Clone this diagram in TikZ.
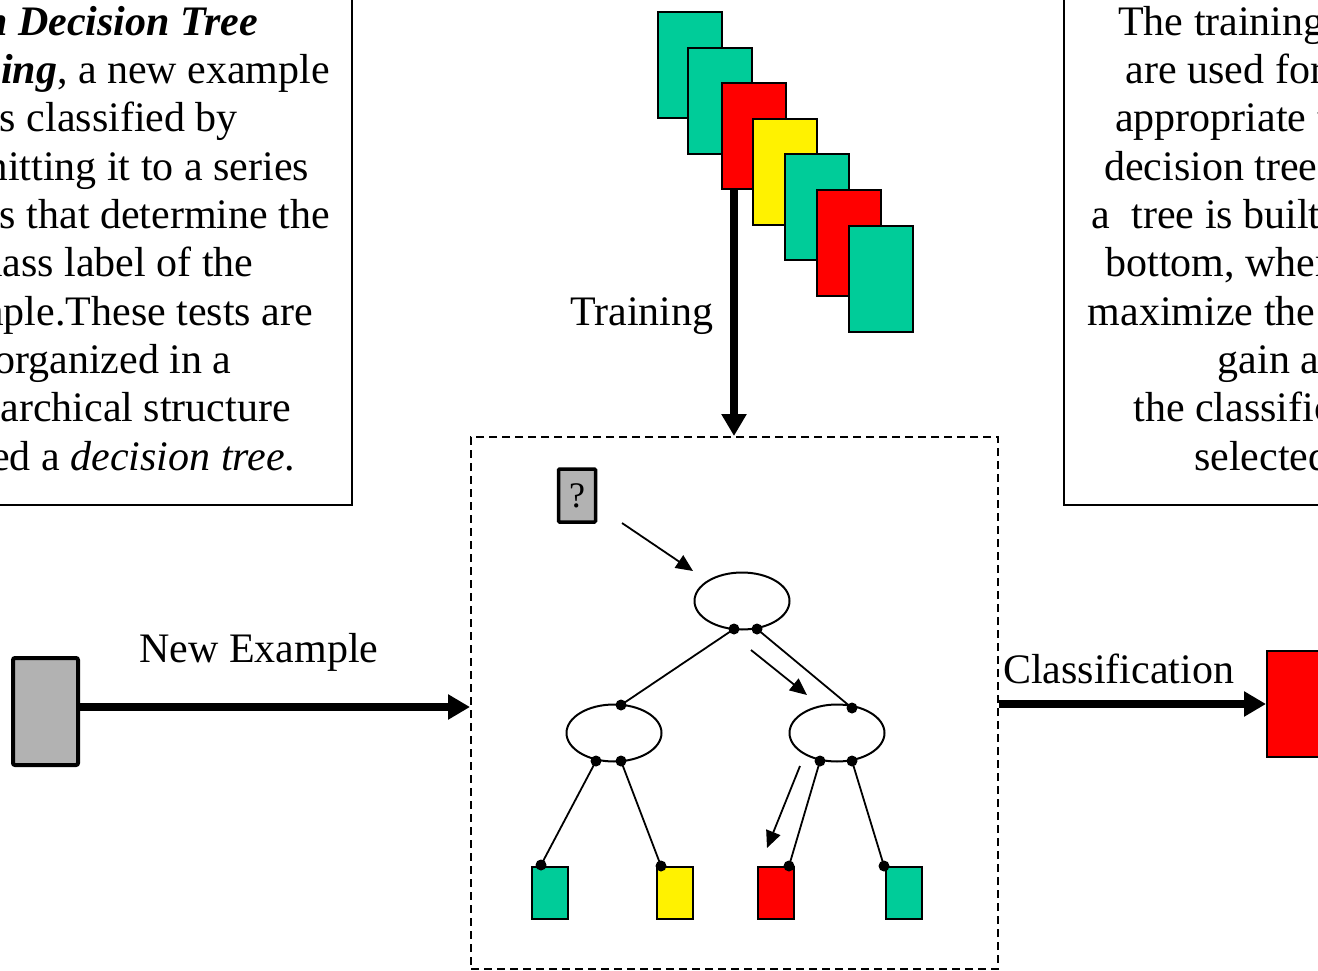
\documentclass[tikz,border=0pt]{standalone}
\usepackage{fontspec}
\setmainfont{Liberation Serif}
\usetikzlibrary{arrows.meta,shapes.geometric}
\definecolor{tgreen}{RGB}{0,204,153}
\definecolor{tgray}{RGB}{178,178,178}
\begin{document}
\begin{tikzpicture}[x=1pt,y=-1pt,
  card/.style={draw=black, line width=2pt, minimum width=64pt, minimum height=106pt, inner sep=0pt, anchor=north west},
  leaf/.style={draw=black, line width=2pt, minimum width=36pt, minimum height=52pt, inner sep=0pt, anchor=north west},
  bigarrow/.style={line width=8pt, -{Triangle[length=22pt,width=24pt]}},
  smallarrow/.style={line width=1.8pt, -{Triangle[length=17pt,width=15pt]}},
  treeedge/.style={line width=1.8pt},
  tdot/.style={circle, fill=black, inner sep=0pt, minimum size=11pt},
  testnode/.style={draw, ellipse, line width=2pt, minimum width=95pt, minimum height=57pt, inner sep=0pt},
  txt/.style={font=\fontsize{42}{48.3}\selectfont, inner sep=0pt},
  infobox/.style={draw=black, line width=1.5pt}
]
\useasboundingbox (0,0) rectangle (1318,971);
\fill[white] (0,0) rectangle (1318,971);
\clip (0,0) rectangle (1318,971);

% info boxes
\draw[infobox] (-200,-30) rectangle (352,505);
\node[txt, align=center, anchor=north] (lefttxt) at (113,6) {%
{\bfseries\itshape In Decision Tree}\\
{\bfseries\itshape Learning}, a new example\\
is classified by\\
submitting it to a series\\
of tests that determine the\\
class label of the\\
example.These tests are\\
organized in a\\
hierarchical structure\\
called a {\itshape decision tree}.};

\draw[infobox] (1064,-30) rectangle (1600,505);
\node[txt, align=center, anchor=north] (righttxt) at (1306,6) {%
The training examples\\
are used for choosing\\
appropriate tests in the\\
decision tree. Typically,\\
a\ \ tree is built from top to\\
bottom, where tests that\\
maximize the information\\
gain about\\
the classification are\\
selected first.};

% training arrow and cards
\coordinate (tstart) at (734,188);
\node[draw, dashed, dash pattern=on 8pt off 5pt, line width=2pt, minimum width=527pt, minimum height=532pt, inner sep=0pt] (frame) at (734.5,703) {};
\draw[bigarrow] (tstart) -- (tstart |- frame.north);
\node[card, fill=tgreen] (c1) at (657,11) {};
\node[card, fill=tgreen] (c2) at (687,47) {};
\node[card, fill=red] (c3) at (721,82) {};
\node[card, fill=yellow] (c4) at (752,118) {};
\node[card, fill=tgreen] (c5) at (784,153) {};
\node[card, fill=red] (c6) at (816,189) {};
\node[card, fill=tgreen] (c7) at (848,225) {};
\node[txt, anchor=base] (trainlbl) at (642,325) {Training};

% new example
\node[draw, fill=tgray, line width=4pt, rounded corners=2pt, minimum width=65pt, minimum height=107pt, inner sep=0pt] (newex) at (45.5,711.5) {};
\draw[bigarrow] (newex.east |- 0,707) -- (frame.west |- 0,707);
\node[txt, anchor=base] (newlbl) at (259,662) {New Example};

% classification
\node[draw, fill=red, line width=2pt, minimum width=80pt, minimum height=106pt, inner sep=0pt, anchor=west] (result) at (1266,704) {};
\draw[bigarrow] (result.west -| frame.east) -- (result.west);
\node[txt, anchor=base west] (classlbl) at (1003,683) {Classification};

% tree
\node[draw, fill=tgray, line width=3.5pt, rounded corners=1pt, minimum width=37pt, minimum height=53pt, inner sep=0pt, font=\fontsize{36}{40}\selectfont] (q) at (577,495.5) {?};
\node[testnode] (root) at (742,601) {};
\node[testnode] (lchild) at (614,733) {};
\node[testnode] (rchild) at (837,733) {};
\node[leaf, fill=tgreen] (l1) at (531,866) {};
\node[leaf, fill=yellow] (l2) at (656,866) {};
\node[leaf, fill=red] (l3) at (757,866) {};
\node[leaf, fill=tgreen] (l4) at (885,866) {};

\coordinate (r1) at (734,629);
\coordinate (r2) at (757,629);
\coordinate (lt) at (621,705);
\coordinate (lb1) at (596,761);
\coordinate (lb2) at (621,761);
\coordinate (rt) at (852,708);
\coordinate (rb1) at (820,761);
\coordinate (rb2) at (852,761);
\coordinate (d1) at (541,865);
\coordinate (d2) at (661,866);
\coordinate (d3) at (789,866);
\coordinate (d4) at (884,866);

\draw[treeedge] (r1) -- (lt);
\draw[treeedge] (r2) -- (rt);
\draw[treeedge] (lb1) -- (d1);
\draw[treeedge] (lb2) -- (d2);
\draw[treeedge] (rb1) -- (d3);
\draw[treeedge] (rb2) -- (d4);
\foreach \p in {r1,r2,lt,lb1,lb2,rt,rb1,rb2,d1,d2,d3,d4}
  \node[tdot] at (\p) {};

\coordinate (a1s) at (622,523);
\coordinate (a1e) at (693,571);
\coordinate (a2s) at (751,650);
\coordinate (a2e) at (807,695);
\coordinate (a3s) at (800,766);
\coordinate (a3e) at (767,848);
\draw[smallarrow] (a1s) -- (a1e);
\draw[smallarrow] (a2s) -- (a2e);
\draw[smallarrow] (a3s) -- (a3e);
\end{tikzpicture}
\end{document}
